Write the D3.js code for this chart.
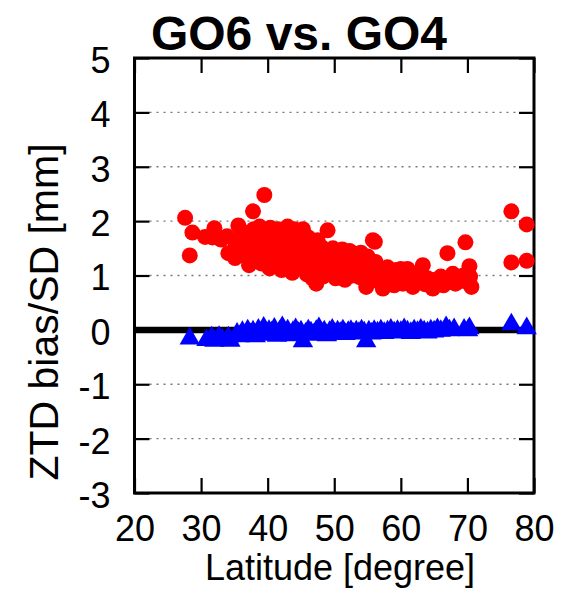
<!DOCTYPE html>
<html lang="en">
<head>
  <meta charset="UTF-8">
  <title>GO6 vs. GO4</title>
  <style>
    body { margin: 0; background: #fff; }
    text { font-family: "Liberation Sans", Arial, Helvetica, sans-serif; }
  </style>
</head>
<body>
<div id="chart"></div>
<script src="https://cdn.jsdelivr.net/npm/d3@7"></script>
<script type="text/javascript">
  const xTicks = [20, 30, 40, 50, 60, 70, 80];
  const yTicks = [-3, -2, -1, 0, 1, 2, 3, 4, 5];
  const gridValues = [-2, -1, 1, 2, 3, 4];

  // bias (red circles): [latitude, value]
  const biasPoints = [
    [27.6,2.06],[28.3,1.37],[28.7,1.79],[30.6,1.71],[31.7,1.70],[32.0,1.87],[33.0,1.66],[33.9,1.72],[34.1,1.41],
    [35.1,1.32],[35.6,1.92],[37.8,2.18],[39.5,2.48],
    [35.2,1.55],[35.8,1.70],[36.0,1.45],[36.3,1.80],[36.5,1.60],[36.8,1.35],[37.0,1.75],[37.2,1.19],[37.3,1.50],
    [37.6,1.65],[37.9,1.85],[38.0,1.40],[38.2,1.28],[38.4,1.58],[38.6,1.72],[38.8,1.90],[39.0,1.48],[39.1,1.22],
    [39.3,1.62],[39.6,1.80],[39.8,1.35],[40.0,1.70],[40.1,1.52],[40.3,1.13],[40.4,1.88],
    [40.7,1.42],[40.9,1.62],[41.0,1.78],[41.2,1.25],[41.4,1.55],[41.6,1.85],[41.8,1.38],[42.0,1.68],[42.1,1.10],
    [42.3,1.48],[42.5,1.80],[42.6,1.30],[42.8,1.58],[43.0,1.90],[43.1,1.20],[43.3,1.72],[43.5,1.42],[43.7,1.05],
    [43.8,1.62],[44.0,1.85],[44.2,1.32],[44.4,1.52],[44.6,1.75],[44.8,1.15],[45.0,1.40],[45.1,1.63],[45.3,1.85],
    [45.5,1.25],[45.7,1.50],[45.9,1.02],[46.1,1.70],[46.3,1.35],[46.5,1.55],[46.7,0.95],[46.9,1.20],[47.1,1.45],
    [47.3,0.85],[47.5,1.65],[47.7,1.10],[47.9,1.32],[48.1,1.52],[48.3,0.98],[48.5,1.22],[48.7,1.42],[49.0,1.83],
    [49.2,1.15],[49.4,1.35],[49.6,1.05],[49.8,1.50],[50.0,1.25],
    [50.2,0.95],[50.4,1.42],[50.6,1.15],[50.8,1.35],[51.0,1.05],[51.2,1.48],[51.4,1.20],[51.6,0.92],[51.8,1.38],
    [52.0,1.10],[52.3,1.45],[52.5,1.25],[52.7,1.00],[53.0,1.40],[53.2,1.15],[53.5,1.30],[53.8,0.97],[54.0,1.42],
    [54.2,1.20],[54.5,1.05],[54.8,0.79],[55.0,1.35],[55.3,1.12],[55.5,0.92],[55.8,1.65],[56.1,1.62],[56.2,1.25],
    [56.4,1.02],
    [56.8,0.88],[57.0,1.12],[57.3,0.76],[57.6,1.00],[58.0,1.15],[58.3,0.90],[58.6,1.05],[59.0,0.82],[59.3,1.10],
    [59.6,0.95],[60.0,1.12],[60.3,0.85],[60.7,1.02],[61.0,1.12],[61.4,0.90],[61.8,0.79],[62.2,1.00],[62.6,0.88],
    [63.0,1.05],[63.3,1.19],[63.6,0.84],[64.0,0.95],[64.4,0.82],[64.8,0.76],[65.2,0.92],[65.6,0.85],[66.0,0.98],
    [66.4,0.82],[66.8,0.90],[67.0,1.41],[67.3,0.88],[67.8,1.03],[68.2,0.85],[68.6,0.95],[69.0,0.90],[69.4,1.00],
    [69.7,1.61],[70.0,0.88],[70.3,1.17],[70.4,0.98],[70.6,0.79],
    [76.6,2.18],[78.9,1.94],[76.6,1.24],[78.9,1.27]
  ];

  // difference (blue triangles): [latitude, value]
  const diffPoints = [
    [28.3,-0.16],[30.8,-0.19],[31.6,-0.14],[32.0,-0.20],[32.7,-0.13],[33.2,-0.18],[34.1,-0.14],[34.4,-0.20],
    [35.4,-0.07],[35.8,-0.12],[36.2,-0.04],[36.6,-0.11],[37.0,-0.01],[37.4,-0.08],[37.8,-0.03],[38.2,-0.12],[38.6,0.00],
    [39.0,-0.06],[39.4,0.04],[39.8,-0.09],[40.2,-0.02],[40.6,-0.05],[41.0,0.02],[41.4,-0.11],[41.8,-0.03],[42.2,0.05],
    [42.6,-0.07],[43.0,-0.01],[43.4,-0.10],[43.8,-0.04],[44.2,0.01],[44.6,-0.06],[45.0,-0.03],[45.3,-0.21],[45.7,-0.07],
    [46.1,-0.01],[46.5,-0.05],[46.9,-0.09],[47.3,-0.02],[47.7,0.03],[48.1,-0.06],[48.5,-0.03],[48.9,-0.10],[49.3,-0.04],
    [49.7,0.00],[50.1,-0.07],[50.5,-0.03],[50.9,-0.06],[51.3,-0.01],[51.7,-0.08],[52.1,-0.04],[52.5,-0.02],[52.9,-0.07],
    [53.3,-0.03],[53.7,-0.06],[54.1,-0.01],[54.5,-0.05],[54.8,-0.21],[55.2,-0.03],[55.6,-0.07],[56.0,-0.02],[56.5,-0.05],
    [57.0,-0.01],[57.5,-0.06],[58.0,-0.03],[58.5,0.00],[59.0,-0.05],[59.5,-0.02],[60.0,-0.04],[60.5,0.01],[61.0,-0.03],
    [61.5,-0.06],[62.0,-0.01],[62.5,-0.04],[63.0,0.00],[63.5,-0.03],[64.0,-0.05],[64.5,-0.01],[65.0,-0.03],[65.5,0.01],
    [66.0,-0.02],[66.8,0.05],[67.3,-0.01],[68.0,0.01],[69.5,0.00],[70.1,-0.01],[70.3,0.03],[76.6,0.10],[78.9,0.03]
  ];

  const W = 566, H = 589;
  const plotL = 134.5, plotR = 534, plotT = 58, plotB = 493;

  const svg = d3.select("#chart").append("svg")
    .attr("width", W).attr("height", H);

  const x = d3.scaleLinear().domain([20, 80]).range([plotL, plotR]);
  const y = d3.scaleLinear().domain([-3, 5]).range([plotB, plotT]);

  // dotted grid
  svg.append("g").selectAll("line").data(gridValues).enter().append("line")
    .attr("x1", plotL + 15).attr("x2", plotR - 15)
    .attr("y1", d => y(d)).attr("y2", d => y(d))
    .style("stroke", "#777")
    .style("stroke-width", 1.3)
    .style("stroke-dasharray", "2,5");

  // zero line
  svg.append("line")
    .attr("x1", x(20)).attr("x2", x(80))
    .attr("y1", y(0)).attr("y2", y(0))
    .style("stroke", "#000")
    .style("stroke-width", 6.5);

  // axes, ticks pointing inward
  const fmt = d => String(d);
  const gx = svg.append("g").attr("transform", `translate(0,${plotB})`)
    .call(d3.axisBottom(x).tickValues(xTicks).tickSize(-15).tickSizeOuter(0).tickPadding(22).tickFormat(fmt));
  const gxt = svg.append("g").attr("transform", `translate(0,${plotT})`)
    .call(d3.axisTop(x).tickValues(xTicks).tickSize(-15).tickSizeOuter(0).tickFormat(""));
  const gy = svg.append("g").attr("transform", `translate(${plotL},0)`)
    .call(d3.axisLeft(y).tickValues(yTicks).tickSize(-15).tickSizeOuter(0).tickPadding(24).tickFormat(fmt));
  const gyr = svg.append("g").attr("transform", `translate(${plotR},0)`)
    .call(d3.axisRight(y).tickValues(yTicks).tickSize(-15).tickSizeOuter(0).tickFormat(""));

  [gx, gxt, gy, gyr].forEach(g => {
    g.select(".domain").remove();
    g.selectAll(".tick line").style("stroke", "#000").style("stroke-width", 2.2);
    g.selectAll(".tick text")
      .style("font-size", "36px")
      .style("font-family", "'Liberation Sans', Arial, sans-serif")
      .style("fill", "#000");
  });
  gy.selectAll(".tick text").attr("dy", "0.4em");

  // frame
  svg.append("rect")
    .attr("x", plotL).attr("y", plotT)
    .attr("width", plotR - plotL).attr("height", plotB - plotT)
    .style("fill", "none")
    .style("stroke", "#000")
    .style("stroke-width", 3);

  // red circles
  svg.append("g").selectAll("circle").data(biasPoints).enter().append("circle")
    .attr("cx", d => x(d[0]))
    .attr("cy", d => y(d[1]))
    .attr("r", 8)
    .style("fill", "#ff0000");

  // blue triangles
  const tri = d3.symbol().type(d3.symbolTriangle).size(180);
  svg.append("g").selectAll("path").data(diffPoints).enter().append("path")
    .attr("d", tri)
    .attr("transform", d => `translate(${x(d[0])},${y(d[1])})`)
    .style("fill", "#0000ff");

  // title and labels
  svg.append("text")
    .attr("x", 299).attr("y", 50)
    .attr("text-anchor", "middle")
    .style("font-size", "48px")
    .style("font-weight", "bold")
    .text("GO6 vs. GO4");

  svg.append("text")
    .attr("x", 340).attr("y", 580)
    .attr("text-anchor", "middle")
    .style("font-size", "36px")
    .text("Latitude [degree]");

  svg.append("text")
    .attr("transform", "translate(58,312) rotate(-90)")
    .attr("text-anchor", "middle")
    .style("font-size", "41px")
    .text("ZTD bias/SD [mm]");
</script>
</body>
</html>
